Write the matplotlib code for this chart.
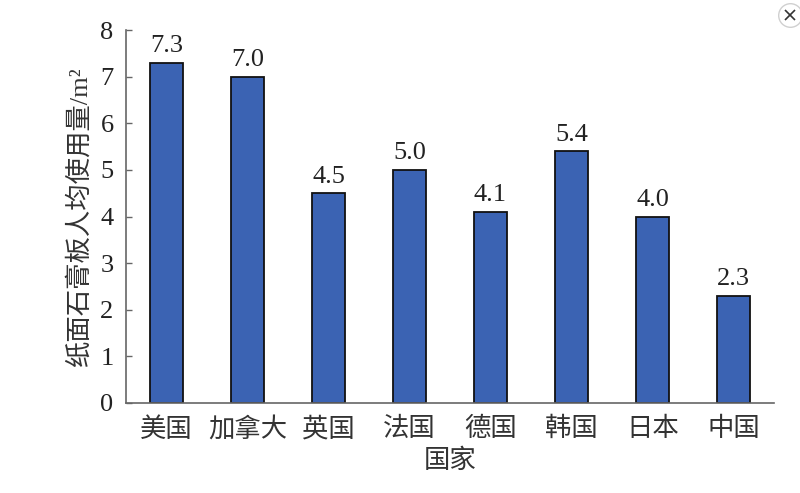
import matplotlib
matplotlib.use("Agg")
import matplotlib.pyplot as plt

plt.rcParams['font.family'] = ['Liberation Serif', 'Noto Sans CJK SC', 'DejaVu Sans']

countries = ["美国", "加拿大", "英国", "法国", "德国", "韩国", "日本", "中国"]
usage = [7.3, 7.0, 4.5, 5.0, 4.1, 5.4, 4.0, 2.3]
yticks = [0, 1, 2, 3, 4, 5, 6, 7, 8]

fig = plt.figure(figsize=(8, 4.93), dpi=100)
ax = fig.add_axes([0.1575, 0.1826, 0.81, 0.7564])

x = range(len(countries))
ax.bar(x, usage, width=0.41, color="#3b63b3", edgecolor="#111111", linewidth=1.3, zorder=2)
for xi, v in zip(x, usage):
    ax.text(xi, v + 0.12, f"{v:.1f}", ha="center", va="bottom", fontsize=19, color="#222222")

ax.set_xlim(-0.5, 7.5)
ax.set_ylim(0, 8)
ax.set_yticks(yticks)
ax.set_yticklabels([str(t) for t in yticks], fontsize=19, color="#222222")
ax.set_xticks(list(x))
ax.set_xticklabels(countries, fontsize=19, color="#333333", fontweight="light")
ax.tick_params(axis="y", direction="in", length=4, width=1, color="#666666", pad=9)
ax.tick_params(axis="x", length=0, pad=10)

for side in ["top", "right"]:
    ax.spines[side].set_visible(False)
for side in ["left", "bottom"]:
    ax.spines[side].set_color("#666666")
    ax.spines[side].set_linewidth(1.2)

ax.set_ylabel("纸面石膏板人均使用量/m²", fontsize=19, color="#333333", labelpad=6,
              fontweight="light")
ax.set_xlabel("国家", fontsize=19, color="#333333", labelpad=5, fontweight="light")

# close button in the corner
btn = fig.add_axes([0.9875 - 0.02, 0.9696 - 0.03, 0.04, 0.06])
btn.set_xlim(-1, 1)
btn.set_ylim(-1, 1)
btn.axis("off")
btn.plot(0, 0, "o", ms=17, mfc="white", mec="#d0d0d0", mew=1, clip_on=False)
btn.plot(0, 0, "x", ms=7, mec="#333333", mew=1.2, clip_on=False)

fig.savefig("out.png", dpi=100)
